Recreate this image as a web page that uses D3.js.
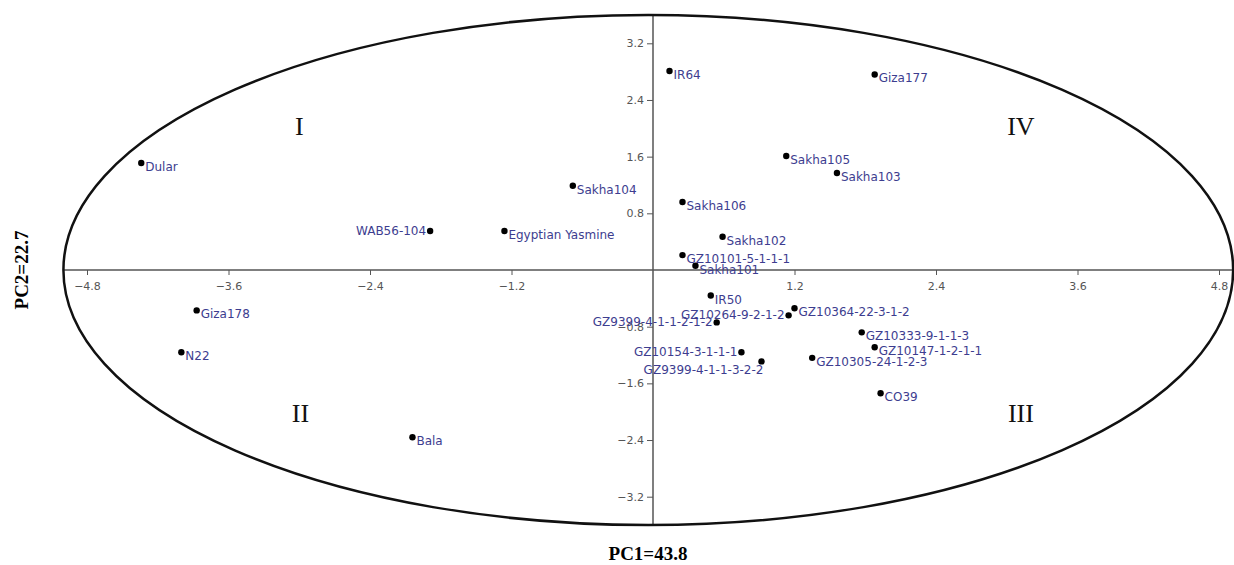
<!DOCTYPE html>
<html>
<head>
<meta charset="utf-8">
<script src="https://cdn.jsdelivr.net/npm/d3@7"></script>
<style>
  body { margin: 0; background: #fff; }
  svg { display: block; }
</style>
</head>
<body>
<div id="chart"></div>
<script>
// genotype names and their PC scores
const names = ["IR64", "Giza177", "Dular", "Sakha105", "Sakha103", "Sakha104", "Sakha106",
    "WAB56-104", "Egyptian Yasmine", "Sakha102", "GZ10101-5-1-1-1", "Sakha101", "IR50",
    "GZ10264-9-2-1-2", "GZ10364-22-3-1-2", "GZ9399-4-1-1-2-1-2", "GZ10154-3-1-1-1",
    "GZ9399-4-1-1-3-2-2", "GZ10333-9-1-1-3", "GZ10147-1-2-1-1", "GZ10305-24-1-2-3",
    "CO39", "Giza178", "N22", "Bala"];
const pc1 = [0.14, 1.88, -4.34, 1.13, 1.56, -0.68, 0.25,
    -1.89, -1.26, 0.59, 0.25, 0.36, 0.49,
    1.15, 1.20, 0.54, 0.75,
    0.92, 1.77, 1.88, 1.35,
    1.93, -3.87, -4.00, -2.04];
const pc2 = [2.81, 2.76, 1.51, 1.61, 1.37, 1.19, 0.96,
    0.55, 0.55, 0.47, 0.21, 0.06, -0.36,
    -0.64, -0.54, -0.74, -1.16,
    -1.29, -0.88, -1.09, -1.24,
    -1.74, -0.57, -1.16, -2.36];

const xTicks = [-4.8, -3.6, -2.4, -1.2, 1.2, 2.4, 3.6, 4.8];
const yTicks = [-3.2, -2.4, -1.6, -0.8, 0.8, 1.6, 2.4, 3.2];

const quadrants = ["I", "IV", "II", "III"];
const quadrantPos = [[-3.0, 1.9], [3.12, 1.9], [-2.99, -2.15], [3.12, -2.15]];

// confidence ellipse (data units)
const ellipse = {cx: -0.04, cy: 0, rx: 4.96, ry: 3.6};

// labels drawn to the left of their point
const leftLabels = new Set(["WAB56-104", "GZ10264-9-2-1-2", "GZ9399-4-1-1-2-1-2",
    "GZ10154-3-1-1-1", "GZ9399-4-1-1-3-2-2"]);

const width = 1234;
const height = 565;
const labelColor = "#3d3d8f";

const x = d3.scaleLinear().domain([-4.8, 4.8]).range([87, 1219]);
const y = d3.scaleLinear().domain([-3.2, 3.2]).range([496.7, 43.3]);

const svg = d3.select("#chart")
    .append("svg")
    .attr("width", width)
    .attr("height", height);

// axes through the origin, spanning the ellipse
const xLeft = x(ellipse.cx - ellipse.rx);
const xRight = x(ellipse.cx + ellipse.rx);
const yTop = y(ellipse.cy + ellipse.ry);
const yBottom = y(ellipse.cy - ellipse.ry);

svg.append("line")
    .attr("x1", xLeft).attr("x2", xRight)
    .attr("y1", y(0)).attr("y2", y(0))
    .style("stroke", "#555").style("stroke-width", 1.5);

svg.append("line")
    .attr("x1", x(0)).attr("x2", x(0))
    .attr("y1", yTop).attr("y2", yBottom)
    .style("stroke", "#555").style("stroke-width", 1.5);

const xAxis = d3.axisBottom(x)
    .tickValues(xTicks)
    .tickSize(5)
    .tickFormat(d3.format(".1f"));

const gx = svg.append("g")
    .attr("transform", `translate(0,${y(0)})`)
    .call(xAxis);

const yAxis = d3.axisLeft(y)
    .tickValues(yTicks)
    .tickSize(6)
    .tickFormat(d3.format(".1f"));

const gy = svg.append("g")
    .attr("transform", `translate(${x(0)},0)`)
    .call(yAxis);

[gx, gy].forEach(g => {
    g.select(".domain").remove();
    g.selectAll(".tick line").style("stroke", "#555");
    g.selectAll(".tick text")
        .style("fill", "#555")
        .style("font-family", "DejaVu Sans, sans-serif")
        .style("font-size", "11px");
});
gx.selectAll(".tick text").attr("dy", "1.1em");

// ellipse
svg.append("ellipse")
    .attr("cx", x(ellipse.cx))
    .attr("cy", y(ellipse.cy))
    .attr("rx", x(ellipse.rx) - x(0))
    .attr("ry", y(0) - y(ellipse.ry))
    .style("fill", "none")
    .style("stroke", "#111")
    .style("stroke-width", 2.5);

// quadrant numerals
svg.selectAll("text.quad")
    .data(quadrants)
    .enter()
    .append("text")
    .attr("class", "quad")
    .attr("x", (d, i) => x(quadrantPos[i][0]))
    .attr("y", (d, i) => y(quadrantPos[i][1]))
    .attr("text-anchor", "middle")
    .style("font-family", "Liberation Serif, serif")
    .style("font-size", "26px")
    .style("fill", "#111")
    .text(d => d);

const points = names.map((n, i) => ({name: n, pc1: pc1[i], pc2: pc2[i]}));

svg.selectAll("circle.pt")
    .data(points)
    .enter()
    .append("circle")
    .attr("class", "pt")
    .attr("cx", d => x(d.pc1))
    .attr("cy", d => y(d.pc2))
    .attr("r", 3.2)
    .style("fill", "#000");

svg.selectAll("text.lbl")
    .data(points)
    .enter()
    .append("text")
    .attr("class", "lbl")
    .attr("x", d => {
        if (d.name == "GZ9399-4-1-1-3-2-2") return x(d.pc1) + 2;
        return leftLabels.has(d.name) ? x(d.pc1) - 4 : x(d.pc1) + 4;
    })
    .attr("y", d => {
        if (d.name == "GZ9399-4-1-1-3-2-2") return y(d.pc2) + 13;
        return leftLabels.has(d.name) ? y(d.pc2) + 4 : y(d.pc2) + 8;
    })
    .attr("text-anchor", d => leftLabels.has(d.name) ? "end" : "start")
    .style("font-family", "DejaVu Sans, sans-serif")
    .style("font-size", "12px")
    .style("fill", labelColor)
    .text(d => d.name);

// axis titles
svg.append("text")
    .attr("x", x(0) - 5)
    .attr("y", 560)
    .attr("text-anchor", "middle")
    .style("font-family", "Liberation Serif, serif")
    .style("font-weight", "bold")
    .style("font-size", "19px")
    .text("PC1=43.8");

svg.append("text")
    .attr("transform", `translate(28,${y(0)}) rotate(-90)`)
    .attr("text-anchor", "middle")
    .style("font-family", "Liberation Serif, serif")
    .style("font-weight", "bold")
    .style("font-size", "19px")
    .text("PC2=22.7");
</script>
</body>
</html>
